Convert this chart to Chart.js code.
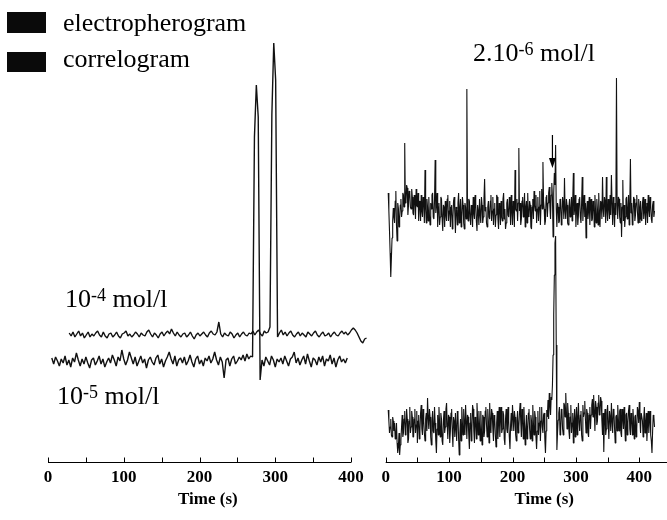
<!DOCTYPE html>
<html>
<head>
  <title>Electropherogram and correlogram</title>
  <script src="https://cdn.jsdelivr.net/npm/chart.js"></script>
  <style>
    body { margin: 0; background: #fff; }
    #figure { position: relative; width: 667px; height: 520px; overflow: hidden; background: #fff;
              font-family: 'Liberation Serif', 'Times New Roman', serif; color: #000; }
    .pane { position: absolute; top: 0; height: 520px; }
    .label { position: absolute; font-size: 26px; line-height: 26px; white-space: nowrap; }
    .label span { font-size: 18px; line-height: 0; vertical-align: 6px; }
    .swatch { position: absolute; left: 7px; width: 39px; height: 21px; background: #0a0a0a; }
  </style>
</head>
<body>
<div id="figure">
  <div class="pane" style="left:0;width:370px"><canvas id="leftChart" width="370" height="520"></canvas></div>
  <div class="pane" style="left:361px;width:362px"><canvas id="rightChart" width="362" height="520"></canvas></div>
  <div class="swatch" style="top:12px"></div>
  <div class="label" style="left:63px;top:10px">electropherogram</div>
  <div class="swatch" style="top:52px;height:20px"></div>
  <div class="label" style="left:63px;top:46px">correlogram</div>
  <div class="label" style="left:473px;top:40px">2.10<span>-6</span> mol/l</div>
  <div class="label" style="left:65px;top:286px">10<span>-4</span> mol/l</div>
  <div class="label" style="left:57px;top:383px">10<span>-5</span> mol/l</div>
</div>

<script>
  // sampling of the recorded traces (s)
  const leftHighStart = 28, leftLowStart = 5, leftStep = 2.5;
  const rightStart = 4, rightStep = 1;

  // traces are stacked: baseline offset of each one (a.u.)
  const leftHighBase = 127, leftLowBase = 100;
  const rightElectroBase = 249, rightCorrBase = 37;

  // 10-4 mol/l
  const leftHighSignal = [
    2, -1, 3, -2, 1, 4, -1, 2, -3, 0, 3, -2, 1, -1, 2, 4, 0, -2, 3, -1,
    -3, 1, 2, -2, 0, 3, -1, -3, 1, 2, 4, -1, 1, -2, 0, 3, 1, -2, 2, 0,
    -1, 3, 5, 1, -2, 2, 0, -3, 1, 3, -1, 2, 4, 1, 6, 2, -1, 3, 0, -2,
    1, 2, -2, 0, 3, -1, -4, 0, 2, -1, 1, 3, 0, -2, 2, 4, 1, 0, 3, 13,
    1, -2, 2, 0, -1, 3, 1, -3, 0, 2, -2, 1, 3, 0, -1, 2, 1, 4, 0, 3,
    5, 1, -1, 4, 2, 3, 8, 220, 292, 255, -2, 2, 5, 0, 3, -1, 2, 4, 0, -2,
    1, 3, -1, 2, 0, -2, 3, 1, -1, 2, 4, 0, -2, 1, 3, -1, 0, 2, -2, 1,
    3, 0, -1, 2, 4, 1, 3, 0, 2, 5, 7, 5, 2, -2, -6, -8, -4, -3
  ];

  // 10-5 mol/l
  const leftLowSignal = [
    4, -2, 5, 1, -4, 3, -1, 6, -3, 2, -5, 4, 0, 9, 2, -4, 3, -2, 5, -1,
    -6, 2, 4, -3, 1, 6, -2, 3, -5, 0, 4, -1, 7, 2, -4, 5, 1, 12, 3, -3,
    2, 10, 4, -2, 5, -4, 1, 6, -1, 3, -6, 2, 5, 0, -3, 4, 7, -2, 3, -5,
    1, 5, 10, 3, -2, 6, -4, 2, 4, -1, 5, -3, 1, 7, 0, -5, 3, 6, -2, 2,
    -4, 4, 1, 6, -1, 3, 10, 2, -3, 5, 0, -16, 2, 4, -4, 3, 6, -2, 1, 5,
    2, 7, 1, 8, 3, 6, 5, 225, 277, 245, -18, 2, -4, 5, 1, -3, 6, 2, -5, 3,
    0, 4, -2, 6, 1, -4, 3, 5, 10, -1, 4, -3, 2, 6, -2, 8, 1, -5, 4, 2,
    -3, 5, 0, 6, -4, 3, 1, 7, -2, 4, -5, 2, 6, 0, 3, -1, 4
  ];

  // 2.10-6 mol/l, electropherogram (one sample per second)
  const rightElectroSignal = [
    20, 2, -18, -40, -64, -45, -25, -8, 5, -4, -10, 12, 22, -12, -28, 10, 5, -14, -6, 8,
    14, -4, 2, 20, 18, 6, 70, 10, 12, 28, 25, -2, 8, 22, 20, 6, 4, 24, 16, 0,
    -2, 18, 14, -6, 24, 8, 6, 20, -8, 12, 10, -8, 18, 2, -4, 16, 12, -10, 43, 4,
    -10, 14, 6, -8, 16, -2, -12, 10, 4, 18, 20, -4, -6, 12, 53, 0, 8, 20, -14, 6,
    10, -12, -4, 16, 14, -6, -18, 8, 6, -14, 12, -2, -8, 14, 18, -8, 2, 12, -14, 6,
    8, -16, -6, 12, 16, 0, -20, 6, 4, -12, 10, 20, -10, 4, 14, -14, -4, 16, 8, -10,
    -16, 10, 6, -6, 124, 4, -8, 14, 12, -4, -12, 8, 4, -14, 16, 0, -6, 18, 10, -8,
    -18, 8, 2, -12, 14, -2, -10, 16, 8, -10, -4, 14, 34, 2, 6, -10, -14, 6, 12, -4,
    -6, 12, 18, -8, 2, 16, -12, 4, 10, -14, -2, 18, 16, -6, -16, 10, 6, -12, 12, -4,
    -8, 14, 20, -6, 4, -16, -10, 10, 14, -2, -4, 16, 8, -12, 18, 2, -12, 12, 6, -14,
    43, 4, 2, 14, -8, 10, 65, 2, 10, -12, -6, 12, 16, -4, 4, 20, -14, 6, 12, -10,
    20, -2, -4, 12, 8, -14, -16, 6, 14, -6, 22, 8, 2, 18, -10, 4, 16, -8, 6, 22,
    -12, 8, 24, 4, 51, 12, 4, -12, -8, 16, 18, -4, 10, 20, 26, 6, -6, 18, 30, 16,
    -24, 20, 40, 28, 68, 4, -14, 10, 6, -10, -8, 14, 12, -12, -4, 16, 10, -6, 35, 2,
    -6, 14, 8, -10, -12, 6, 14, -4, 2, 16, -8, 12, 40, -2, 4, 18, -14, 4, 10, -12,
    -2, 14, 16, -4, -10, 10, 36, -8, 6, 18, -4, 10, -25, 4, 12, -6, 2, 16, -12, 8,
    14, -8, -6, 12, 8, -14, 18, 2, -10, 14, 4, -12, 20, 0, -14, 12, 10, -6, 36, 4,
    -4, 16, 12, -10, 36, 2, -8, 14, 6, -6, 18, -2, 38, 10, -12, 16, 4, -14, 10, -2,
    135, 8, -6, 16, 14, -4, -10, 10, -24, 6, 33, -8, 8, -14, -4, 14, 16, -6, 2, 18,
    -12, 8, 54, 0, 10, -12, -6, 16, 14, -8, -2, 10, 18, 2, -10, 14, 6, -10, 12, -6,
    -8, 10, 16, -6, 2, 14, -12, 6, 10, -10, 18, 4, -4, 16, 8, -6, -10, 8, 12, -4, 2
  ];

  // 2.10-6 mol/l, correlogram (one sample per second)
  const rightCorrSignal = [
    15, 4, -8, -2, 6, -10, -12, 8, 4, -6, 2, -14, -10, 2, -18, -28, -22, -8, -30, -20,
    -15, -2, 10, -12, -8, 6, 14, -10, -4, 16, 6, -18, -14, 4, 18, -8, -2, 14, 8, -12,
    -12, 6, 16, -8, 0, 14, -18, 4, 10, -14, -6, 12, 20, -4, -10, 16, 4, -8, -16, 6,
    12, -6, 27, 8, -4, 16, 8, -12, -20, 4, 14, -6, -8, 18, 2, -16, -28, -4, 10, -10,
    18, 2, -12, 12, 6, -16, -20, 4, 14, -8, -2, 16, 22, 0, -14, 10, 8, -18, -6, 12,
    16, -6, -22, 8, 4, -12, 12, -4, -16, 14, 10, -14, -30, -8, 6, -16, 18, 2, -10, 16,
    2, -10, 20, 4, -14, 10, 8, -10, -24, 2, 12, -16, -4, 20, 16, -6, -18, 8, 6, -14,
    22, 6, -10, 14, 0, -16, 14, -4, -20, 10, 8, -12, -6, 14, 18, 0, -12, 16, 4, -18,
    22, 4, -8, 16, 12, -4, -16, 10, 6, -10, -22, 2, 14, -14, 2, 18, -12, 6, 18, -8,
    -4, 14, 10, -14, -20, 6, 16, -4, -8, 18, 4, -12, -24, 0, 12, -6, 20, 8, -6, 14,
    8, -10, -16, 4, 14, -8, -2, 12, 22, 4, -12, 16, 6, -14, 18, 0, -20, -4, 10, -14,
    -6, 12, 16, -4, -14, 10, 4, -16, 20, 2, -10, 14, 8, -12, -24, -6, 14, -10, 2, 18,
    -16, 4, 18, -2, -8, 10, 12, -14, -28, -6, 15, 8, 25, 6, 32, 20, 10, 28, 25, 40,
    70, 110, 150, 182, 189, 80, -25, -8, 5, 12, 18, -10, -6, 16, 14, -4, -10, 22, 20, 8,
    32, 14, -4, 22, 12, -6, -14, 8, 20, -8, 2, 12, -18, 4, 16, -12, 6, 18, -10, 8,
    22, 2, -6, 10, 14, -10, -16, 20, 8, 12, 24, 6, -8, 16, 12, -8, -12, 10, 18, -4,
    10, 20, 26, 8, 30, 14, -6, 24, 18, 0, 4, 22, 30, 10, 12, 28, 24, 4, -10, 12,
    -27, 6, 16, -10, -4, 12, 20, 2, -14, 14, 8, -6, 22, 4, -8, 16, 14, -4, -18, 8,
    10, -6, 20, 6, -6, 14, 16, -8, -12, 16, 8, -4, 18, 2, -16, 10, 12, -10, 2, 14,
    20, -4, -10, 12, 6, -10, 16, 4, -14, 8, 10, -12, -4, 18, 14, 2, 23, 6, -8, 12,
    12, 4, -12, 6, 18, -8, 2, 12, -16, 0, 14, -8, 6, 14, -10, -16, -28, -6, 10, 8, -2
  ];

  const leftTicks = [0, 50, 100, 150, 200, 250, 300, 350, 400];
  const rightTicks = [0, 50, 100, 150, 200, 250, 300, 350, 400, 450, 500];

  const serif = "'Liberation Serif', 'Times New Roman', serif";

  function toPoints(start, step, base, signal) {
    return signal.map((v, i) => ({ x: start + i * step, y: base + v }));
  }

  // axis line from the first to the last tick, with small marks pointing up into the plot
  const innerTicks = {
    id: 'innerTicks',
    afterDraw(chart) {
      const { ctx, chartArea, scales: { x } } = chart;
      const ticks = x.ticks;
      const yb = Math.round(chartArea.bottom) + 0.5;
      ctx.save();
      ctx.strokeStyle = '#000';
      ctx.lineWidth = 1;
      ctx.beginPath();
      ctx.moveTo(x.getPixelForValue(ticks[0].value), yb);
      ctx.lineTo(x.getPixelForValue(ticks[ticks.length - 1].value), yb);
      ticks.forEach(t => {
        const px = Math.round(x.getPixelForValue(t.value)) + 0.5;
        ctx.moveTo(px, yb);
        ctx.lineTo(px, yb - 5);
      });
      ctx.stroke();
      ctx.restore();
    }
  };

  // arrow marking the analyte in the electropherogram
  const arrowMark = {
    id: 'arrowMark',
    afterDatasetsDraw(chart, args, opts) {
      if (!opts.time) return;
      const { ctx, scales: { x, y } } = chart;
      const px = x.getPixelForValue(opts.time);
      const y0 = y.getPixelForValue(opts.from);
      const y1 = y.getPixelForValue(opts.to);
      ctx.save();
      ctx.strokeStyle = '#000';
      ctx.fillStyle = '#000';
      ctx.lineWidth = 1.2;
      ctx.beginPath();
      ctx.moveTo(px, y0);
      ctx.lineTo(px, y1 - 8);
      ctx.stroke();
      ctx.beginPath();
      ctx.moveTo(px - 3.5, y1 - 10);
      ctx.lineTo(px + 3.5, y1 - 10);
      ctx.lineTo(px, y1);
      ctx.closePath();
      ctx.fill();
      ctx.restore();
    }
  };

  function trace(label, data, width) {
    return {
      label: label,
      data: data,
      borderColor: '#111',
      borderWidth: width,
      borderJoinStyle: 'bevel',
      pointRadius: 0,
      fill: false,
      tension: 0
    };
  }

  function timeAxis(max, ticks) {
    return {
      type: 'linear',
      min: 0,
      max: max,
      afterBuildTicks: s => { s.ticks = ticks.map(v => ({ value: v })); },
      afterFit: s => { s.height = 58; },
      grid: { display: false, drawTicks: false },
      border: { display: false },
      ticks: {
        autoSkip: false,
        maxRotation: 0,
        padding: 5,
        color: '#000',
        font: { family: serif, size: 17, weight: 'bold' },
        callback: v => (v % 100 === 0 ? String(v) : '')
      },
      title: {
        display: true,
        text: 'Time (s)',
        color: '#000',
        font: { family: serif, size: 17, weight: 'bold' },
        padding: { top: 0, bottom: 10 }
      }
    };
  }

  function options(padding, xMax, ticks, arrow) {
    return {
      responsive: false,
      animation: false,
      events: [],
      layout: { padding: padding },
      plugins: {
        legend: { display: false },
        tooltip: { enabled: false },
        arrowMark: arrow
      },
      scales: {
        x: timeAxis(xMax, ticks),
        y: { display: false, min: 0, max: 432 }
      }
    };
  }

  // left panel: the 10-4 trace runs a little past the last tick (x range 0..422)
  new Chart(document.getElementById('leftChart'), {
    type: 'line',
    data: {
      datasets: [
        trace('10-4 mol/l', toPoints(leftHighStart, leftStep, leftHighBase, leftHighSignal), 1.4),
        trace('10-5 mol/l', toPoints(leftLowStart, leftStep, leftLowBase, leftLowSignal), 1.4)
      ]
    },
    options: options({ left: 48, right: 2.3, top: 30, bottom: 0 }, 422, leftTicks, {}),
    plugins: [innerTicks, arrowMark]
  });

  new Chart(document.getElementById('rightChart'), {
    type: 'line',
    data: {
      datasets: [
        trace('electropherogram', toPoints(rightStart, rightStep, rightElectroBase, rightElectroSignal), 1.1),
        trace('correlogram', toPoints(rightStart, rightStep, rightCorrBase, rightCorrSignal), 1.1)
      ]
    },
    options: options({ left: 24.7, right: 20.3, top: 30, bottom: 0 }, 500, rightTicks,
      { time: 263, from: 327, to: 294 }),
    plugins: [innerTicks, arrowMark]
  });
</script>
</body>
</html>
